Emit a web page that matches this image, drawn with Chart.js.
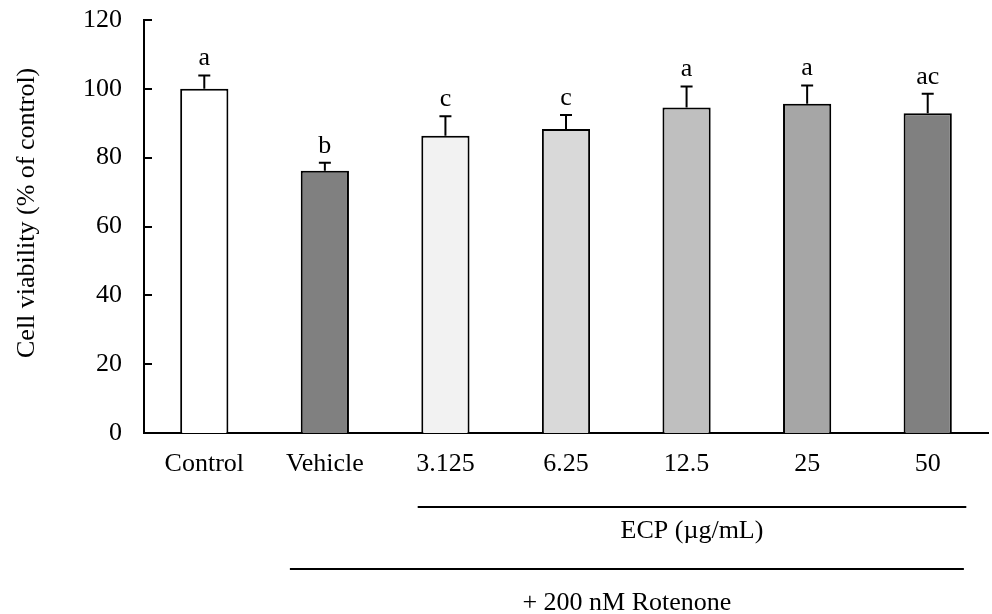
<!DOCTYPE html>
<html>
<head>
<meta charset="utf-8">
<script src="https://cdn.jsdelivr.net/npm/chart.js@4.4.1/dist/chart.umd.min.js"></script>
<style>
  html, body { margin: 0; padding: 0; background: #ffffff; }
  #wrap { width: 992px; height: 614px; }
</style>
</head>
<body>
<div id="wrap"><canvas id="c" width="992" height="614"></canvas></div>
<script>
// Cell viability after rotenone exposure, with ECP pre-treatment
const categories = ['Control', 'Vehicle', '3.125', '6.25', '12.5', '25', '50'];
const viability = [100.0, 76.2, 86.4, 88.3, 94.6, 95.7, 92.9];
const errorSD = [3.9, 2.3, 5.6, 4.1, 6.1, 5.3, 5.7];
const groupLetters = ['a', 'b', 'c', 'c', 'a', 'a', 'ac'];
const barColors = ['#ffffff', '#808080', '#f2f2f2', '#d9d9d9', '#bfbfbf', '#a6a6a6', '#808080'];
const yTicks = [0, 20, 40, 60, 80, 100, 120];
const yTitle = 'Cell viability (% of control)';
const ecpLabel = 'ECP (\u00B5g/mL)';
const rotenoneLabel = '+ 200 nM Rotenone';

const FONT = '"Liberation Serif", "Times New Roman", serif';
const FONT_SIZE = 26;

// Error bars, significance letters and inward y-axis tick marks
const barExtras = {
  id: 'barExtras',
  afterDatasetsDraw(chart) {
    const ctx = chart.ctx;
    const yScale = chart.scales.y;
    const meta = chart.getDatasetMeta(0);
    const area = chart.chartArea;
    ctx.save();
    ctx.strokeStyle = '#000000';
    ctx.lineWidth = 2;
    // inward ticks on the value axis
    yScale.ticks.forEach(t => {
      const py = Math.round(yScale.getPixelForValue(t.value));
      ctx.beginPath();
      ctx.moveTo(area.left, py);
      ctx.lineTo(area.left + 8, py);
      ctx.stroke();
    });
    // upper error bars
    meta.data.forEach((bar, i) => {
      const x = bar.x;
      const yTop = yScale.getPixelForValue(viability[i]);
      const yErr = yScale.getPixelForValue(viability[i] + errorSD[i]);
      ctx.beginPath();
      ctx.moveTo(x, yTop);
      ctx.lineTo(x, yErr);
      ctx.moveTo(x - 6, yErr);
      ctx.lineTo(x + 6, yErr);
      ctx.stroke();
      // letter above the error bar
      ctx.fillStyle = '#000000';
      ctx.font = FONT_SIZE + 'px ' + FONT;
      ctx.textAlign = 'center';
      ctx.textBaseline = 'alphabetic';
      ctx.fillText(groupLetters[i], x, yErr - 10);
    });
    ctx.restore();
  },
  afterDraw(chart) {
    const ctx = chart.ctx;
    const area = chart.chartArea;
    const xScale = chart.scales.x;
    const step = xScale.getPixelForValue(1) - xScale.getPixelForValue(0);
    ctx.save();
    ctx.fillStyle = '#000000';
    ctx.strokeStyle = '#000000';
    ctx.lineWidth = 2;
    ctx.font = FONT_SIZE + 'px ' + FONT;

    // value-axis title
    ctx.save();
    ctx.translate(area.left - 117, area.bottom - 75);
    ctx.rotate(-Math.PI / 2);
    ctx.textAlign = 'left';
    ctx.textBaseline = 'middle';
    ctx.fillText(yTitle, 0, 0);
    ctx.restore();

    // ECP concentration bracket
    const ecpStart = xScale.getPixelForValue(2) - 0.23 * step;
    const ecpEnd = xScale.getPixelForValue(6) + 0.32 * step;
    const ecpY = area.bottom + 74;
    ctx.beginPath();
    ctx.moveTo(ecpStart, ecpY);
    ctx.lineTo(ecpEnd, ecpY);
    ctx.stroke();
    ctx.textAlign = 'center';
    ctx.textBaseline = 'alphabetic';
    ctx.fillText(ecpLabel, (ecpStart + ecpEnd) / 2, area.bottom + 105);

    // rotenone bracket
    const rotStart = xScale.getPixelForValue(1) - 0.29 * step;
    const rotEnd = xScale.getPixelForValue(6) + 0.30 * step;
    const rotY = area.bottom + 136;
    ctx.beginPath();
    ctx.moveTo(rotStart, rotY);
    ctx.lineTo(rotEnd, rotY);
    ctx.stroke();
    ctx.fillText(rotenoneLabel, (rotStart + rotEnd) / 2, area.bottom + 177);
    ctx.restore();
  }
};

new Chart(document.getElementById('c'), {
  type: 'bar',
  data: {
    labels: categories,
    datasets: [{
      data: viability,
      backgroundColor: barColors,
      borderColor: '#000000',
      borderWidth: 2,
      borderSkipped: 'start',
      barPercentage: 0.4,
      categoryPercentage: 1.0
    }]
  },
  options: {
    responsive: false,
    animation: false,
    devicePixelRatio: 1,
    layout: { padding: { left: 0, right: 4, top: 20, bottom: 0 } },
    plugins: {
      legend: { display: false },
      tooltip: { enabled: false }
    },
    scales: {
      x: {
        grid: { display: false, drawTicks: false },
        border: { display: true, color: '#000000', width: 2 },
        ticks: {
          color: '#000000',
          font: { family: FONT, size: FONT_SIZE },
          padding: 16,
          maxRotation: 0,
          autoSkip: false
        },
        afterFit(scale) { scale.height = 181; }
      },
      y: {
        min: 0,
        max: 120,
        grid: { display: false, drawTicks: false },
        border: { display: true, color: '#000000', width: 2 },
        afterBuildTicks(scale) { scale.ticks = yTicks.map(v => ({ value: v })); },
        ticks: {
          color: '#000000',
          font: { family: FONT, size: FONT_SIZE },
          padding: 22
        },
        afterFit(scale) {
          scale.width = 144;
          scale.paddingTop = 0;
          scale.paddingBottom = 0;
        }
      }
    }
  },
  plugins: [barExtras]
});
</script>
</body>
</html>
